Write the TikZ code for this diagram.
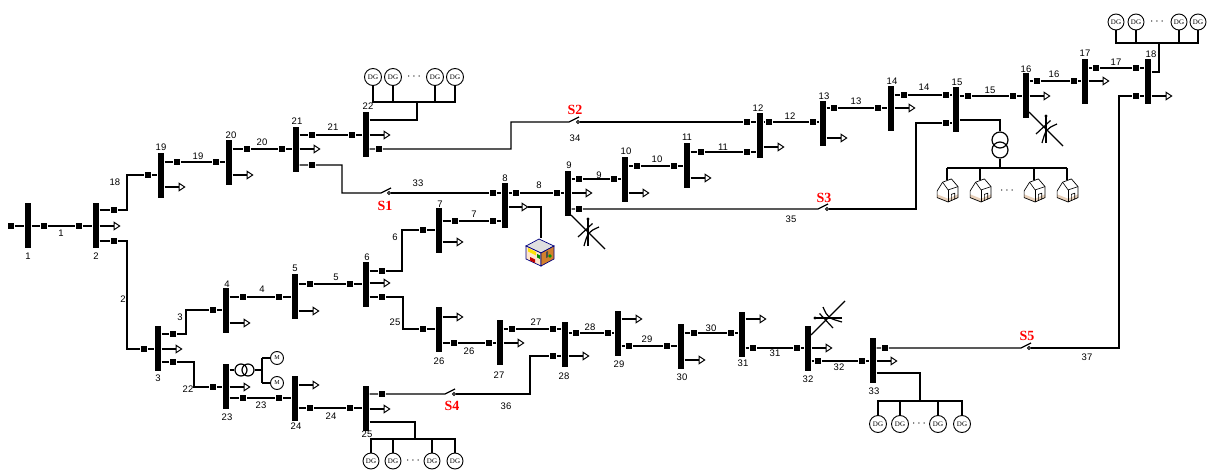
\documentclass[tikz,border=0pt]{standalone}
\usepackage{fontspec}
\setmainfont{Liberation Sans}
\newfontfamily\serifface{Liberation Serif}
\usetikzlibrary{arrows.meta}
\tikzset{
  net/.style={x=1pt,y=-1pt,line width=1.2pt},
  bus/.style={fill=black,inner sep=0,minimum width=6pt,minimum height=45pt},
  brk/.style={fill=black,inner sep=0,minimum size=6.5pt},
  num/.style={inner sep=0,font=\fontsize{9.5}{10}\selectfont},
  swl/.style={inner sep=0,text=red,font=\serifface\bfseries\fontsize{14}{14}\selectfont},
  ld/.style={-{Triangle[open,length=7pt,width=9pt,line width=1pt]}},
  dg/.style={circle,draw,fill=white,inner sep=0,minimum size=17pt,line width=0.9pt,font=\serifface\fontsize{7}{7}\selectfont},
  mot/.style={circle,draw,inner sep=0,minimum size=13pt,line width=0.9pt,font=\serifface\fontsize{6}{6}\selectfont},
  xf/.style={circle,draw,inner sep=0,minimum size=12pt},
  swdot/.style={circle,draw,fill=white,inner sep=0,minimum size=3pt,line width=0.8pt},
  dots/.style={inner sep=0,font=\fontsize{12}{12}\selectfont},
  % adjustable reactive compensator symbol
  svc/.pic={
    \draw (0,0) -- (34,34);
    \draw (17,4) -- (17,31);
    \fill (17,4) circle (1.6);
    \draw (21.5,8.5) -- (7,22);
    \draw (28,12) .. controls (17,17) .. (13,31);
  },
  % residential load icon
  house/.pic={
    \fill[white] (-9,0) -- (-4,-8) -- (4,-11) -- (10,-4) -- (10,6) -- (1,10) -- (-9,6) -- cycle;
    \fill[brown!35] (-9,3) -- (1,7) -- (10,3) -- (10,6) -- (1,10) -- (-9,6) -- cycle;
    \draw[line width=0.7pt,line join=round] (-9,0) -- (-4,-8) -- (4,-11) -- (10,-4) -- (10,6) -- (1,10) -- (-9,6) -- cycle;
    \draw[line width=0.6pt] (-4,-8) -- (1,-1) -- (10,-4);
    \draw[line width=0.6pt] (1,-1) -- (1,10);
    \draw[line width=0.6pt] (4,8.5) -- (4,3) -- (7,2) -- (7,7.5);
  },
  % commercial load icon
  bldg/.pic={
    \filldraw[fill=gray!25,draw=blue!50!black,line width=0.7pt] (-14,-6) -- (-1,-13) -- (14,-6) -- (1,1) -- cycle;
    \filldraw[fill=orange!20!white,draw=blue!50!black,line width=0.7pt] (-14,-6) -- (1,1) -- (1,14) -- (-14,7) -- cycle;
    \filldraw[fill=brown!70!orange,draw=blue!50!black,line width=0.7pt] (1,1) -- (14,-6) -- (14,7) -- (1,14) -- cycle;
    \fill[yellow!85!orange] (-12,-4) -- (-4,0) -- (-4,3.5) -- (-12,-0.5) -- cycle;
    \fill[green!55!black] (-3,2) -- (0,3.5) -- (0,7) -- (-3,5.5) -- cycle;
    \fill[red!75!black] (-10,5) -- (-5,7.5) -- (-5,11) -- (-10,8.5) -- cycle;
    \fill[green!60!black] (10,4) circle (1.8);
    \fill[black!70] (6,0) -- (8,-1) -- (8,5) -- (6,6) -- cycle;
  },
}
\begin{document}
\begin{tikzpicture}[net]
\useasboundingbox (0,0) rectangle (1208,471);

% bus bars
\foreach \n/\x/\y in {1/28/225.5, 2/96/225.5, 19/161/175.5, 20/229/162, 21/296/149.5,
  22/366/134.5, 3/158/348.5, 4/226/310, 5/295/296.5, 6/366/284, 7/439/230.5,
  8/505/205.5, 9/568/193, 10/625/179, 11/687/165.5, 12/760/135.5, 13/823/123,
  14/891/108, 15/956/109, 16/1026/95, 17/1085/81, 18/1148/81, 23/226/386,
  24/295/398, 25/366/408, 26/439/329, 27/500/342.5, 28/565/344, 29/618/333,
  30/681/346, 31/742/334, 32/808/348, 33/873/360.5}
  \node[bus] (b\n) at (\x,\y) {};

% breakers at both ends of each branch
\node[brk] (q0) at (11,226) {};
\foreach \n/\xa/\ya/\xb/\yb in {1/44/226/79/226, 18/114/210/148/175, 19/177/162/216/162,
  20/247/149/282/149, 21/312/135/352/135, 2/114/241/144/349, 3/173/334/213/310,
  4/243/297/279/297, 5/310/284/350/284, 6/382/271/423/230, 7/455/221/493/221,
  8/516/193/557/193, 9/579/179/614/179, 10/637/166/674/166, 11/701/152/747/152,
  12/769/122/813/122, 13/834/108/878/108, 14/904/95/946/95, 15/968/96/1013/96,
  16/1037/81/1074/81, 17/1096/68/1136/68, 22/173/362/213/387, 23/243/398/279/398,
  24/310/408/350/408, 25/382/297/423/329, 26/454/343/489/343, 27/512/329/553/329,
  28/576/333/608/333, 29/629/346/667/346, 30/694/333/731/333, 31/753/348/797/348,
  32/818/361/862/361, 33/312/165/493/193, 34/379/149/747/122, 35/579/209/946/123,
  36/382/394/553/356, 37/885/348/1136/96}
  {\node[brk] (qa\n) at (\xa,\ya) {};
   \node[brk] (qb\n) at (\xb,\yb) {};}

% bus numbers
\foreach \n/\x/\y in {1/28/256, 2/96/256, 19/161/147, 20/231/135, 21/297/121, 22/368/106,
  3/158/378, 4/227/284, 5/295/268, 6/367/257, 7/440/204, 8/505/178, 9/569/165,
  10/626/151, 11/687/137, 12/758/108, 13/824/96, 14/892/81, 15/957/82, 16/1026/69,
  17/1085/53, 18/1151/54, 23/227/417, 24/296/426, 25/367/434, 26/439/361,
  27/499/375, 28/564/376, 29/619/364, 30/682/377, 31/743/363, 32/808/379, 33/874/391}
  \node[num] (nb\n) at (\x,\y) {\n};

% branch numbers
\foreach \n/\x/\y in {1/61/233, 18/115/182, 19/198/156, 20/262/142, 21/333/127, 2/123/299,
  3/180/317, 4/262/289, 5/336/277, 6/395/237, 7/474/214, 22/188/389, 23/261/405,
  24/331/416, 25/395/322, 26/469/351, 27/536/322, 28/590/327, 29/647/339, 30/711/328,
  31/775/353, 32/839/367, 33/418/183, 8/539/185, 9/599/175, 10/657/159, 11/723/147,
  12/790/116, 13/856/101, 14/924/87, 15/990/90, 16/1054/74, 17/1116/62, 34/575/138,
  35/791/219, 36/506/406, 37/1087/357}
  \node[num] (nl\n) at (\x,\y) {\n};

% tie switch labels
\node[swl] (S1) at (385,206) {S1};
\node[swl] (S2) at (575,110) {S2};
\node[swl] (S3) at (824,198) {S3};
\node[swl] (S4) at (452,406) {S4};
\node[swl] (S5) at (1027,336) {S5};

% source feeder stub
\draw (q0) -- (b1.west |- q0);

% straight branches
\foreach \n/\a/\b in {1/1/2, 19/19/20, 20/20/21, 21/21/22, 4/4/5, 5/5/6, 7/7/8, 8/8/9,
  9/9/10, 10/10/11, 11/11/12, 12/12/13, 13/13/14, 14/14/15, 15/15/16, 16/16/17,
  17/17/18, 23/23/24, 24/24/25, 26/26/27, 27/27/28, 28/28/29, 29/29/30, 30/30/31,
  31/31/32, 32/32/33}
  \draw (b\a.east |- qa\n) -- (qa\n) -- (qb\n) -- (b\b.west |- qb\n);

% branches with a bend
\foreach \n/\a/\b/\k in {18/2/19/127, 2/2/3/127, 3/3/4/186, 22/3/23/194, 6/6/7/402, 25/6/26/403}
  \draw (b\a.east |- qa\n) -- (qa\n) -- (qa\n -| \k,0) |- (qb\n) -- (b\b.west |- qb\n);

% tie lines with normally open switches
\coordinate (s1l) at (381,193); \node[swdot] (sw1) at (389,193) {};
\coordinate (s2l) at (569,122); \node[swdot] (sw2) at (578,122) {};
\coordinate (s3l) at (818,209); \node[swdot] (sw3) at (827,209) {};
\coordinate (s4l) at (445,394); \node[swdot] (sw4) at (454,394) {};
\coordinate (s5l) at (1021,348); \node[swdot] (sw5) at (1029,348) {};

\draw (b21.east |- qa33) -- (qa33) -- (qa33 -| 342,0) |- (s1l) -- ++(10,-5);
\draw (sw1) -- (qb33) -- (b8.west |- qb33);
\draw (b22.east |- qa34) -- (qa34) -- (qa34 -| 511,0) |- (s2l) -- ++(10,-5);
\draw (sw2) -- (qb34) -- (b12.west |- qb34);
\draw (b9.east |- qa35) -- (qa35) -- (s3l) -- ++(10,-5);
\draw (sw3) -- (sw3 -| 916,0) |- (qb35) -- (b15.west |- qb35);
\draw (b25.east |- qa36) -- (qa36) -- (s4l) -- ++(10,-5);
\draw (sw4) -- (sw4 -| 530,0) |- (qb36) -- (b28.west |- qb36);
\draw (b33.east |- qa37) -- (qa37) -- (s5l) -- ++(10,-5);
\draw (sw5) -- (sw5 -| 1119,0) |- (qb37) -- (b18.west |- qb37);

% loads
\foreach \n/\y in {2/226, 19/187, 20/175, 21/149, 22/135, 3/349, 4/323, 5/311, 6/283,
  7/242, 9/193, 10/193, 11/178, 12/147, 13/138, 14/108, 16/96, 17/81, 18/96, 23/387,
  24/385, 25/409, 26/317, 27/343, 28/356, 29/319, 30/360, 31/319, 32/348, 33/361}
  \draw[ld] (b\n.east |- 0,\y) -- ++(21,0);

% commercial load at bus 8
\draw[ld] (b8.east |- 0,207) -- ++(20,0);
\coordinate (bldtop) at (541,238);
\draw (528,207) -- (541,207) -- (bldtop);
\pic at (540,252) {bldg};

% reactive compensators
\pic at (571,215) {svc};
\pic at (1029,112) {svc};
\pic[rotate=90] at (811,335) {svc};

% motors behind transformer at bus 23
\node[xf] (t23a) at (241,370) {};
\node[xf] (t23b) at (248,370) {};
\node[mot] (m1) at (277,358) {M};
\node[mot] (m2) at (277,383) {M};
\coordinate (t23j) at (262,370);
\draw (b23.east |- t23a) -- (t23a);
\draw (t23b) -- (t23j);
\draw (t23j |- m1) -- (t23j |- m2);
\draw (t23j |- m1) -- (m1);
\draw (t23j |- m2) -- (m2);

% distributed generators at bus 22
\foreach \i/\x in {a/373, b/393, c/435, d/455} \node[dg] (g22\i) at (\x,77) {DG};
\node[dots] (g22dots) at (414,77) {$\cdots$};
\coordinate (g22j) at (417,102);
\draw (b22.east |- 0,120) -| (g22j);
\draw (g22a.south) -- (g22a |- g22j) -- (g22d |- g22j) -- (g22d.south);
\draw (g22b.south) -- (g22b |- g22j);
\draw (g22c.south) -- (g22c |- g22j);

% distributed generators at bus 18
\foreach \i/\x in {a/1116, b/1136, c/1179, d/1198} \node[dg,minimum size=16pt] (g18\i) at (\x,22) {DG};
\node[dots] (g18dots) at (1157,22) {$\cdots$};
\coordinate (g18j) at (1159,43);
\draw (b18.east |- 0,72) -| (g18j);
\draw (g18a.south) -- (g18a |- g18j) -- (g18d |- g18j) -- (g18d.south);
\draw (g18b.south) -- (g18b |- g18j);
\draw (g18c.south) -- (g18c |- g18j);

% distributed generators at bus 25
\foreach \i/\x in {a/371, b/393, c/432, d/455} \node[dg,minimum size=16pt] (g25\i) at (\x,461) {DG};
\node[dots] (g25dots) at (413,461) {$\cdots$};
\coordinate (g25j) at (415,439);
\draw (b25.east |- 0,422) -| (g25j);
\draw (g25a.north) -- (g25a |- g25j) -- (g25d |- g25j) -- (g25d.north);
\draw (g25b.north) -- (g25b |- g25j);
\draw (g25c.north) -- (g25c |- g25j);

% distributed generators at bus 33
\foreach \i/\x in {a/878, b/900, c/938, d/962} \node[dg] (g33\i) at (\x,424) {DG};
\node[dots] (g33dots) at (919,424) {$\cdots$};
\coordinate (g33j) at (920,401);
\draw (b33.east |- 0,373) -| (g33j);
\draw (g33a.north) -- (g33a |- g33j) -- (g33d |- g33j) -- (g33d.north);
\draw (g33b.north) -- (g33b |- g33j);
\draw (g33c.north) -- (g33c |- g33j);

% residential feeder behind transformer at bus 15
\node[xf,minimum size=16pt] (t15a) at (1000,140) {};
\node[xf,minimum size=16pt] (t15b) at (1000,150) {};
\coordinate (h15j) at (1000,168);
\draw (b15.east |- 0,120) -| (t15a);
\draw (t15b) -- (h15j);
\foreach \i/\x in {a/947, b/980, c/1034, d/1067} {
  \coordinate (h\i) at (\x,180);
  \pic[scale=1.1] at (\x,191) {house};
}
\draw (ha |- h15j) -- (hd |- h15j);
\foreach \i in {a,b,c,d} \draw (h\i |- h15j) -- (h\i);
\node[dots] (hdots) at (1007,191) {$\cdots$};
\end{tikzpicture}
\end{document}
